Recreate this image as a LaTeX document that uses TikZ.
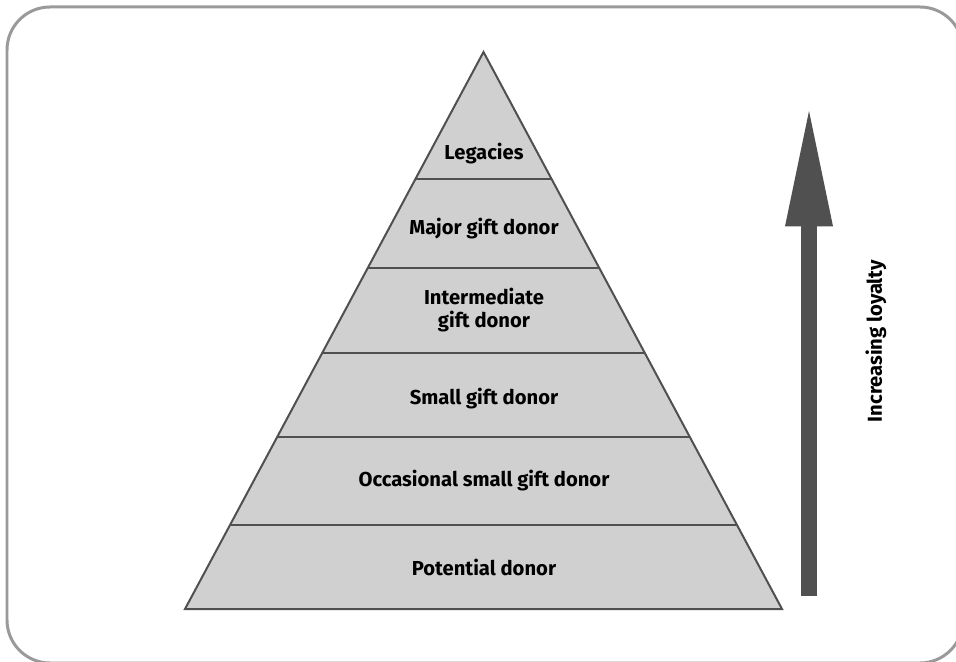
\documentclass[tikz,border=0pt]{standalone}
\usepackage{fontspec}
\setmainfont{Fira Sans}
\usepackage{tikz}
\usetikzlibrary{arrows.meta, calc}
\usepackage{xcolor}
\definecolor{layergray}{HTML}{D0D0D0}
\definecolor{edgegray}{HTML}{505050}
\definecolor{framegray}{HTML}{9A9A9A}
\tikzset{%
	layer text/.style={
		font=\bfseries\fontsize{11.5}{13.5}\selectfont,
		align=center,
		text=black
	},
	pyramid edge/.style={
		draw=edgegray,
		line width=0.04cm
	},
}

\begin{document}
\begin{tikzpicture}[x=0.02cm, y=-0.02cm]
			% Fix the size of the picture
			\useasboundingbox (0,0) rectangle (956,662);
			\clip (0,0) rectangle (956,662);
			
			% Draw the frame
			\draw[framegray, line width=0.06cm, rounded corners=0.86cm] (7,7) rectangle (963,663);
			
			% Draw the pyramid
			\coordinate (apex) at (483.5,52);
			\coordinate (bl) at (185,609);
			\coordinate (br) at (782,609);
			\fill[layergray] (apex) -- (bl) -- (br) -- cycle;
			\foreach \f [count=\i] in {0.228, 0.388, 0.540, 0.691, 0.849} {
				\coordinate (l\i) at ($(apex)!\f!(bl)$);
				\coordinate (r\i) at ($(apex)!\f!(br)$);
				\draw[pyramid edge] (l\i) -- (r\i);
			}
			\draw[pyramid edge, line join=miter] (apex) -- (bl) -- (br) -- cycle;
			
			% Labels of the layers
			\node[layer text] (legacies) at (484,154) {Legacies};
			\node[layer text] (major) at (484,229) {Major gift donor};
			\node[layer text] (inter) at (484,310) {Intermediate\\gift donor};
			\node[layer text] (small) at (484,399) {Small gift donor};
			\node[layer text] (occasional) at (484,481) {Occasional small gift donor};
			\node[layer text] (potential) at (484,567) {Potential donor};
			
			% Draw the arrow
			\coordinate (tail) at (809,596);
			\coordinate (tip) at (809,104);
			\draw[edgegray, line width=0.32cm, -{Triangle[length=2.45cm, width=0.86cm]}] (tail) -- (tip);
			\node[layer text, rotate=90] (loyalty) at (876,341) {Increasing loyalty};
		\end{tikzpicture}
\end{document}
